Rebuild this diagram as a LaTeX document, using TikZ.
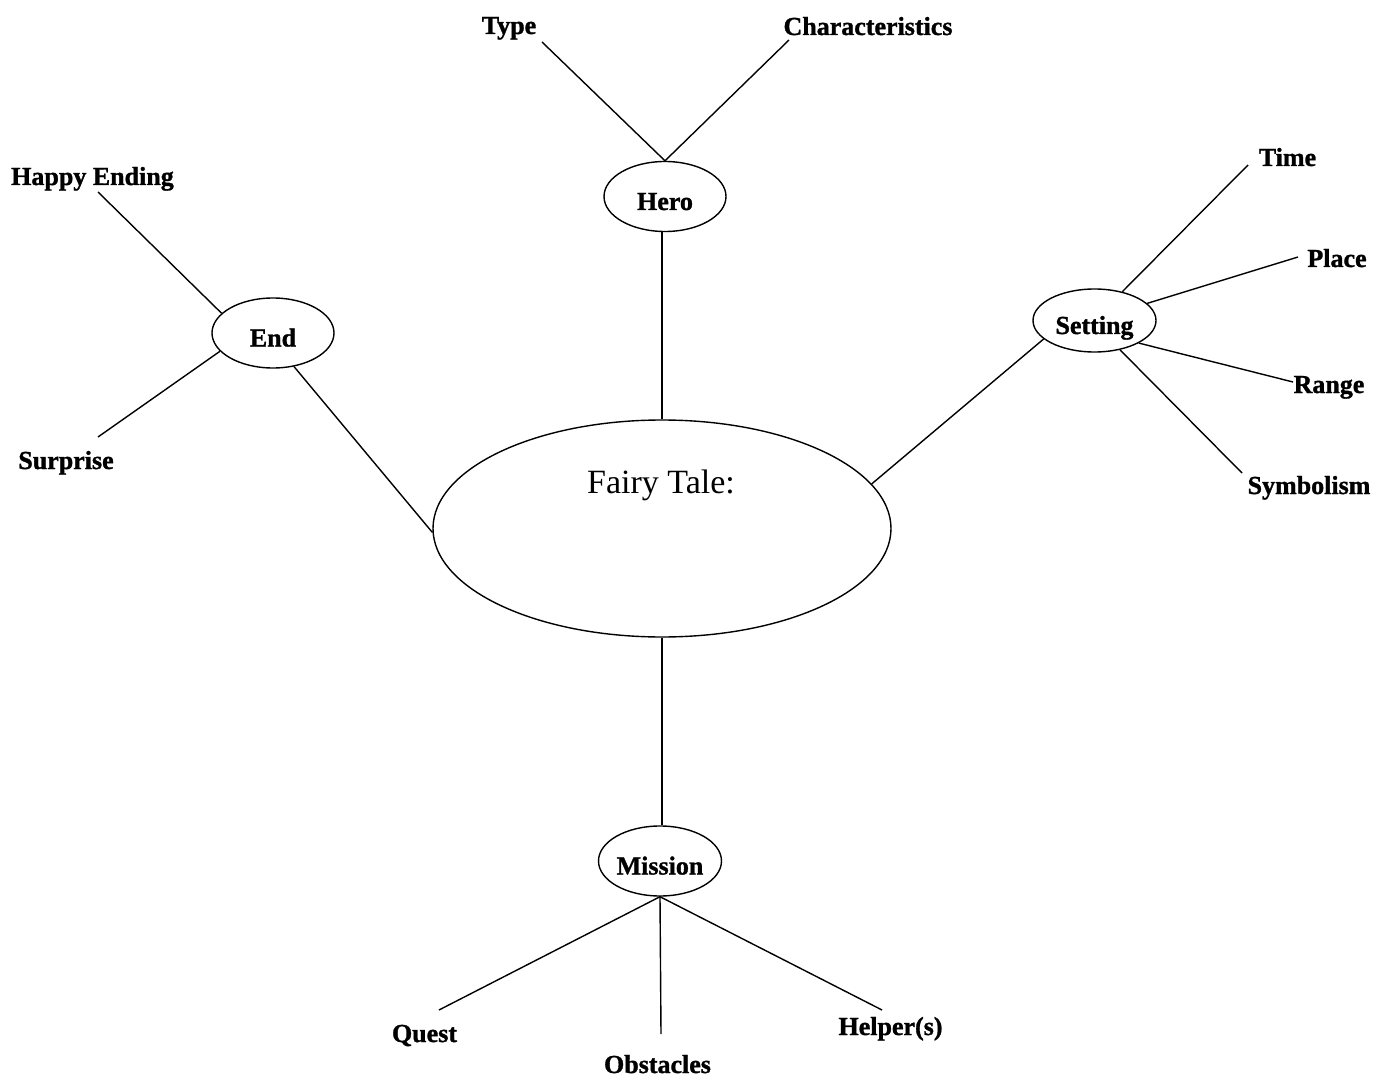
\documentclass[tikz,border=0pt]{standalone}
\usepackage{fontspec}
\setmainfont{Liberation Serif}
\newfontfamily\lblfont{Liberation Serif}[BoldFeatures={FakeBold=1.2}]
\usetikzlibrary{shapes.geometric}
\begin{document}
\begin{tikzpicture}[x=1pt,y=-1pt,
  conn/.style={line width=1.4pt,black},
  oval/.style={draw,ellipse,line width=1.4pt,inner sep=0pt,text height=27pt,text depth=0pt,
    font=\fontsize{26}{29}\selectfont\lblfont\bfseries},
  lbl/.style={anchor=base,inner sep=0pt,font=\fontsize{26}{29}\selectfont\lblfont\bfseries}]
\useasboundingbox (0,0) rectangle (1377,1078);
\fill[white] (0,0) rectangle (1377,1078);

% central ellipse
\node[draw,ellipse,line width=1.4pt,inner sep=0pt,minimum width=458pt,minimum height=217pt] (main) at (662,528.5) {};
\node[anchor=base,inner sep=0pt,font=\fontsize{34}{37}\selectfont\lblfont\mdseries] (title) at (661,493) {Fairy Tale:};

% secondary ellipses
\node[oval,minimum width=122pt,minimum height=70pt] (hero) at (665,196.5) {\makebox[0pt]{Hero}};
\node[oval,minimum width=122pt,minimum height=70pt] (endn) at (273,333) {\makebox[0pt]{End}};
\node[oval,minimum width=123pt,minimum height=63pt] (setting) at (1094.5,320.5) {\makebox[0pt]{Setting}};
\node[oval,minimum width=123pt,minimum height=70pt] (mission) at (660,861) {\makebox[0pt]{Mission}};

% labels
\node[lbl] (type) at (509,34) {Type};
\node[lbl] (charac) at (868,35) {Characteristics};
\node[lbl] (happy) at (92.5,185) {Happy Ending};
\node[lbl] (surprise) at (66,469) {Surprise};
\node[lbl] (time) at (1287.5,166) {Time};
\node[lbl] (place) at (1337,267) {Place};
\node[lbl] (range) at (1329,393) {Range};
\node[lbl] (symbol) at (1309,494) {Symbolism};
\node[lbl] (quest) at (424.5,1042) {Quest};
\node[lbl] (obst) at (657.5,1073) {Obstacles};
\node[lbl] (helper) at (890.5,1035) {Helper(s)};

% free ends of connectors near labels
\coordinate (tA) at (542,42);
\coordinate (cA) at (789,40);
\coordinate (hA) at (98,192);
\coordinate (sA) at (98,437);
\coordinate (tiA) at (1248,165);
\coordinate (plA) at (1298,257);
\coordinate (raA) at (1293,382);
\coordinate (syA) at (1242,473);
\coordinate (qA) at (439,1010);
\coordinate (obA) at (661,1034);
\coordinate (heA) at (882,1010);

% main links
\draw[conn] (main.north) -- (main.north |- hero.south);
\draw[conn] (main.south) -- (main.south |- mission.north);
\draw[conn] (main.181.6) -- (endn.302);
\draw[conn] (main.12.9) -- (setting.200.4);

% hero
\draw[conn] (hero.north) -- (tA);
\draw[conn] (hero.north) -- (cA);
% end
\draw[conn] (endn.159.3) -- (hA);
\draw[conn] (endn.199.1) -- (sA);
% setting
\draw[conn] (setting.46.8) -- (tiA);
\draw[conn] (setting.18.1) -- (plA);
\draw[conn] (setting.-27.3) -- (raA);
\draw[conn] (setting.-49.8) -- (syA);
% mission
\draw[conn] (mission.south) -- (qA);
\draw[conn] (mission.south) -- (obA);
\draw[conn] (mission.south) -- (heA);
\end{tikzpicture}
\end{document}
